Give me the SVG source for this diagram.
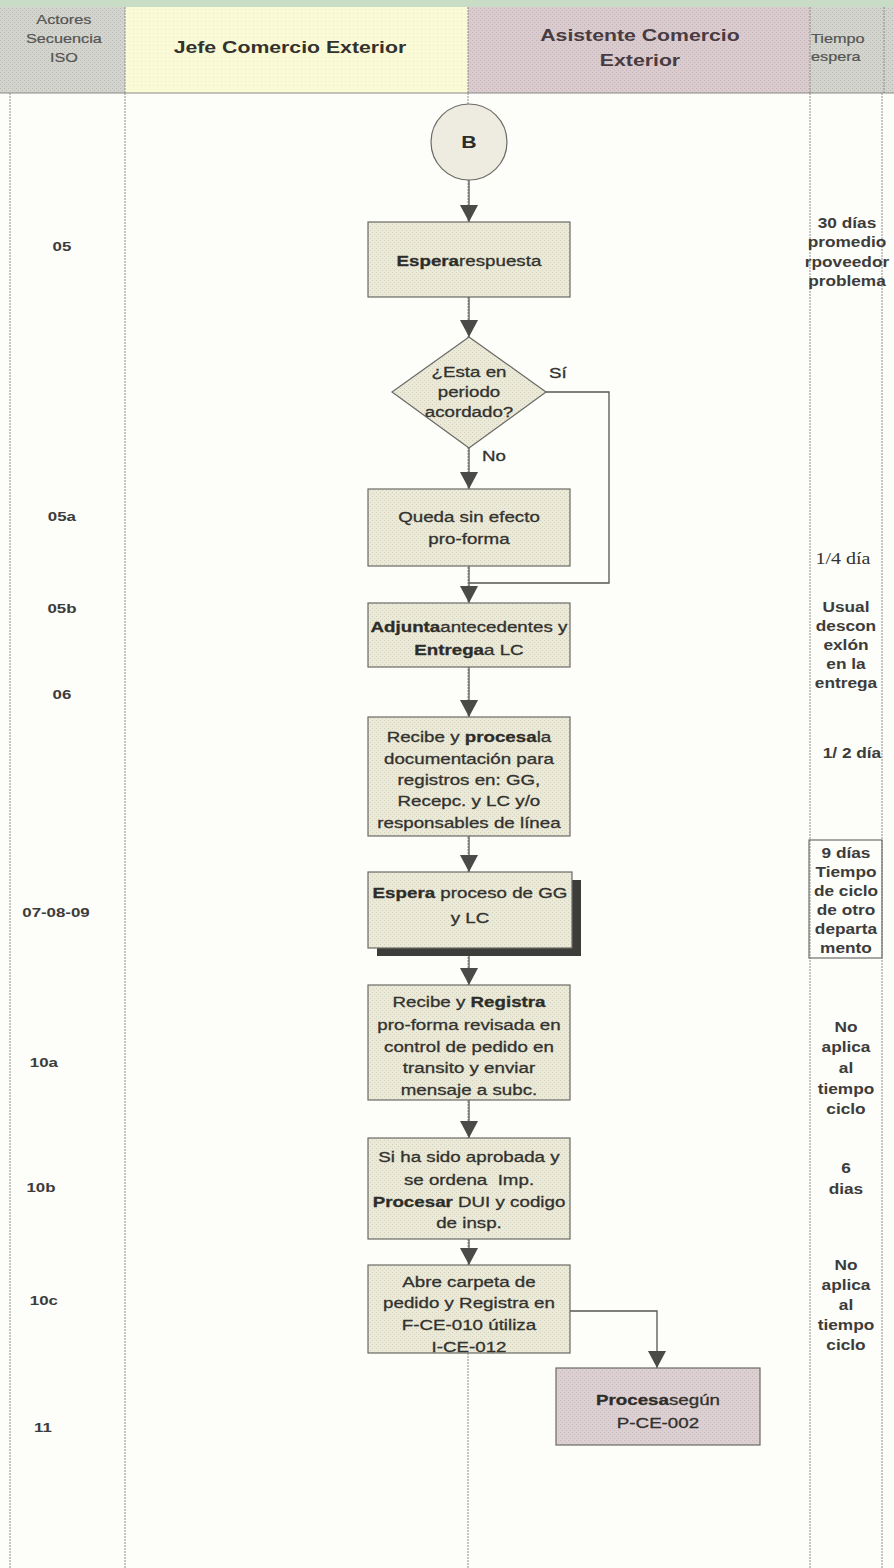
<svg xmlns="http://www.w3.org/2000/svg" width="894" height="1568" viewBox="0 0 894 1568">
  <style>
    text{font-family:"Liberation Sans",Arial,sans-serif;fill:#32322f}
    .w{transform-box:fill-box;transform-origin:50% 50%;transform:scaleX(1.25)}
    .wl{transform-box:fill-box;transform-origin:0 50%;transform:scaleX(1.25)}
    .bx{font-size:15px;text-anchor:middle;stroke:#32322f;stroke-width:0.3}
    .b{font-weight:bold;fill:#2c2c29}
    .hd{font-size:17px;font-weight:bold;text-anchor:middle}
    .hs{font-size:13px;fill:#555553;stroke:#555553;stroke-width:0.2}
    .seq{font-size:13.5px;font-weight:bold;text-anchor:middle;fill:#3c3c3a}
    .tm{font-size:13.8px;font-weight:bold;text-anchor:middle;fill:#3c3c3a}
    .lane{stroke:#8c8c8a;stroke-width:1;stroke-dasharray:2 1;fill:none}
    .proc{fill:url(#grainBox);stroke:#6a6a66;stroke-width:1.2}
    .edge{stroke:#555553;stroke-width:1.3;fill:none}
  </style>
  <defs>
    <pattern id="grainBox" width="4" height="4" patternUnits="userSpaceOnUse">
      <rect width="4" height="4" fill="#ebe9d7"/>
      <rect x="0" y="0" width="1" height="1" fill="#d2cfba"/>
      <rect x="2" y="2" width="1" height="1" fill="#d6d3bf"/>
    </pattern>
    <pattern id="grainHdr" width="4" height="4" patternUnits="userSpaceOnUse">
      <rect width="4" height="4" fill="#d4d4cf"/>
      <rect x="0" y="0" width="1" height="1" fill="#b7b7b2"/>
      <rect x="2" y="2" width="1" height="1" fill="#bbbbb6"/>
    </pattern>
    <pattern id="grainYel" width="4" height="4" patternUnits="userSpaceOnUse">
      <rect width="4" height="4" fill="#fafad6"/>
      <rect x="1" y="1" width="1" height="1" fill="#efeec8"/>
    </pattern>
    <pattern id="grainMauve" width="4" height="4" patternUnits="userSpaceOnUse">
      <rect width="4" height="4" fill="#dacbcf"/>
      <rect x="0" y="0" width="1" height="1" fill="#c2b1b6"/>
      <rect x="2" y="2" width="1" height="1" fill="#c6b6ba"/>
    </pattern>
    <pattern id="grainPink" width="4" height="4" patternUnits="userSpaceOnUse">
      <rect width="4" height="4" fill="#ddd0d3"/>
      <rect x="0" y="0" width="1" height="1" fill="#c6b7ba"/>
      <rect x="2" y="2" width="1" height="1" fill="#cabbbe"/>
    </pattern>
    <marker id="ah" markerUnits="userSpaceOnUse" markerWidth="17" markerHeight="18" viewBox="0 0 17 18" refX="17" refY="9" orient="auto">
      <path d="M0,0 L17,9 L0,18 z" fill="#4a4a48"/>
    </marker>
  </defs>

  <!-- page -->
  <rect width="894" height="1568" fill="#fdfdfa"/>

  <!-- header band -->
  <g id="header">
    <rect x="0" y="0" width="894" height="7" fill="#c9dcc6"/>
    <rect x="0" y="7" width="894" height="86" fill="url(#grainHdr)"/>
    <rect x="125" y="7" width="343" height="86" fill="url(#grainYel)"/>
    <rect x="468" y="7" width="342" height="86" fill="url(#grainMauve)"/>
    <path class="lane" d="M125,7V93M468,7V93M810,7V93M884,7V93"/>
    <line x1="0" y1="93" x2="894" y2="93" stroke="#8a8a86" stroke-width="1"/>
    <text class="hs w" text-anchor="middle"><tspan x="64" y="24">Actores</tspan><tspan x="64" y="43">Secuencia</tspan><tspan x="64" y="62">ISO</tspan></text>
    <text class="hd w" x="290" y="53" fill="#34342e">Jefe Comercio Exterior</text>
    <text class="hd w" style="fill:#483b41"><tspan x="640" y="41">Asistente Comercio</tspan><tspan x="640" y="66">Exterior</tspan></text>
    <text class="hs wl"><tspan x="811" y="43">Tiempo</tspan><tspan x="811" y="61">espera</tspan></text>
  </g>

  <!-- lane dividers -->
  <g id="lanes">
    <path class="lane" d="M10,93V1568M125,93V1568M468,93V1568M810,93V1568M882,93V1568"/>
  </g>

  <!-- sequence numbers -->
  <g id="sequence">
    <text class="seq w" x="62" y="251">05</text>
    <text class="seq w" x="62" y="521">05a</text>
    <text class="seq w" x="62" y="613">05b</text>
    <text class="seq w" x="62" y="699">06</text>
    <text class="seq w" x="56" y="917">07-08-09</text>
    <text class="seq w" x="44" y="1067">10a</text>
    <text class="seq w" x="41" y="1192">10b</text>
    <text class="seq w" x="44" y="1305">10c</text>
    <text class="seq w" x="43" y="1432">11</text>
  </g>

  <!-- waiting times -->
  <g id="times">
    <text class="tm w"><tspan x="847" y="228">30 días</tspan><tspan x="847" y="247">promedio</tspan><tspan x="847" y="267">rpoveedor</tspan><tspan x="847" y="286">problema</tspan></text>
    <text class="w" x="843" y="564" text-anchor="middle" style="font-family:'Liberation Serif','Times New Roman',serif;font-size:16px;fill:#32322f">1/4 día</text>
    <text class="tm w"><tspan x="846" y="612">Usual</tspan><tspan x="846" y="631">descon</tspan><tspan x="846" y="650">exlón</tspan><tspan x="846" y="669">en la</tspan><tspan x="846" y="688">entrega</tspan></text>
    <text class="tm w" x="852" y="758">1/ 2 día</text>
    <rect x="809" y="840" width="73" height="118" fill="none" stroke="#6e6e6a" stroke-width="1.2"/>
    <text class="tm w"><tspan x="846" y="858">9 días</tspan><tspan x="846" y="877">Tiempo</tspan><tspan x="846" y="896">de ciclo</tspan><tspan x="846" y="915">de otro</tspan><tspan x="846" y="934">departa</tspan><tspan x="846" y="953">mento</tspan></text>
    <text class="tm w"><tspan x="846" y="1032">No</tspan><tspan x="846" y="1052">aplica</tspan><tspan x="846" y="1073">al</tspan><tspan x="846" y="1094">tiempo</tspan><tspan x="846" y="1114">ciclo</tspan></text>
    <text class="tm w"><tspan x="846" y="1173">6</tspan><tspan x="846" y="1194">dias</tspan></text>
    <text class="tm w"><tspan x="846" y="1270">No</tspan><tspan x="846" y="1290">aplica</tspan><tspan x="846" y="1310">al</tspan><tspan x="846" y="1330">tiempo</tspan><tspan x="846" y="1350">ciclo</tspan></text>
  </g>

  <!-- connectors -->
  <g id="connectors">
    <path class="edge" d="M469,180V222" marker-end="url(#ah)"/>
    <path class="edge" d="M469,297V337" marker-end="url(#ah)"/>
    <path class="edge" d="M469,448V489" marker-end="url(#ah)"/>
    <path class="edge" d="M469,566V603" marker-end="url(#ah)"/>
    <path class="edge" d="M546,392H609V583H469"/>
    <path class="edge" d="M469,667V717" marker-end="url(#ah)"/>
    <path class="edge" d="M469,836V872" marker-end="url(#ah)"/>
    <path class="edge" d="M469,956V985" marker-end="url(#ah)"/>
    <path class="edge" d="M469,1100V1138" marker-end="url(#ah)"/>
    <path class="edge" d="M469,1239V1265" marker-end="url(#ah)"/>
    <path class="edge" d="M570,1311H657V1368" marker-end="url(#ah)"/>
    <text class="bx w" x="558" y="378">Sí</text>
    <text class="bx w" x="494" y="461">No</text>
  </g>

  <!-- nodes -->
  <g id="start-B">
    <circle cx="469" cy="142" r="38" fill="#eeece0" stroke="#6a6a66" stroke-width="1.2"/>
    <text class="w" x="469" y="148" text-anchor="middle" style="font-size:17px;font-weight:bold;fill:#2c2c29">B</text>
  </g>

  <g id="espera-respuesta">
    <rect class="proc" x="368" y="222" width="202" height="75"/>
    <text class="bx w" x="469" y="266"><tspan class="b">Espera</tspan>respuesta</text>
  </g>

  <g id="periodo-acordado">
    <path class="proc" d="M469,337L546,392L469,448L392,392z"/>
    <text class="bx w"><tspan x="469" y="377">¿Esta en</tspan><tspan x="469" y="397">periodo</tspan><tspan x="469" y="417">acordado?</tspan></text>
  </g>

  <g id="queda-sin-efecto">
    <rect class="proc" x="368" y="489" width="202" height="77"/>
    <text class="bx w"><tspan x="469" y="522">Queda sin efecto</tspan><tspan x="469" y="544">pro-forma</tspan></text>
  </g>

  <g id="adjunta">
    <rect class="proc" x="368" y="603" width="202" height="64"/>
    <text class="bx w"><tspan x="469" y="632"><tspan class="b">Adjunta</tspan>antecedentes y</tspan><tspan x="469" y="655"><tspan class="b">Entrega</tspan>a LC</tspan></text>
  </g>

  <g id="recibe-procesa">
    <rect class="proc" x="368" y="717" width="202" height="119"/>
    <text class="bx w"><tspan x="469" y="742">Recibe y <tspan class="b">procesa</tspan>la</tspan><tspan x="469" y="764">documentación para</tspan><tspan x="469" y="785">registros en: GG,</tspan><tspan x="469" y="806">Recepc. y LC y/o</tspan><tspan x="469" y="828">responsables de línea</tspan></text>
  </g>

  <g id="espera-proceso">
    <rect x="377" y="880" width="204" height="76" fill="#3c3c3a"/>
    <rect class="proc" x="368" y="872" width="204" height="76"/>
    <text class="bx w"><tspan x="470" y="898"><tspan class="b">Espera</tspan> proceso de GG</tspan><tspan x="470" y="923">y LC</tspan></text>
  </g>

  <g id="recibe-registra">
    <rect class="proc" x="368" y="985" width="202" height="115"/>
    <text class="bx w"><tspan x="469" y="1007">Recibe y <tspan class="b">Registra</tspan></tspan><tspan x="469" y="1030">pro-forma revisada en</tspan><tspan x="469" y="1052">control de pedido en</tspan><tspan x="469" y="1073">transito y enviar</tspan><tspan x="469" y="1095">mensaje a subc.</tspan></text>
  </g>

  <g id="procesar-dui">
    <rect class="proc" x="368" y="1138" width="202" height="101"/>
    <text class="bx w"><tspan x="469" y="1162">Si ha sido aprobada y</tspan><tspan x="469" y="1185">se ordena&#160; Imp.</tspan><tspan x="469" y="1207"><tspan class="b">Procesar</tspan> DUI y codigo</tspan><tspan x="469" y="1228">de insp.</tspan></text>
  </g>

  <g id="abre-carpeta">
    <rect class="proc" x="368" y="1265" width="202" height="88"/>
    <text class="bx w"><tspan x="469" y="1287">Abre carpeta de</tspan><tspan x="469" y="1308">pedido y Registra en</tspan><tspan x="469" y="1330">F-CE-010 útiliza</tspan><tspan x="469" y="1352">I-CE-012</tspan></text>
  </g>

  <g id="procesa-segun">
    <rect x="556" y="1368" width="204" height="77" fill="url(#grainPink)" stroke="#6a6a66" stroke-width="1.2"/>
    <text class="bx w"><tspan x="658" y="1405"><tspan class="b">Procesa</tspan>según</tspan><tspan x="658" y="1428">P-CE-002</tspan></text>
  </g>
</svg>
